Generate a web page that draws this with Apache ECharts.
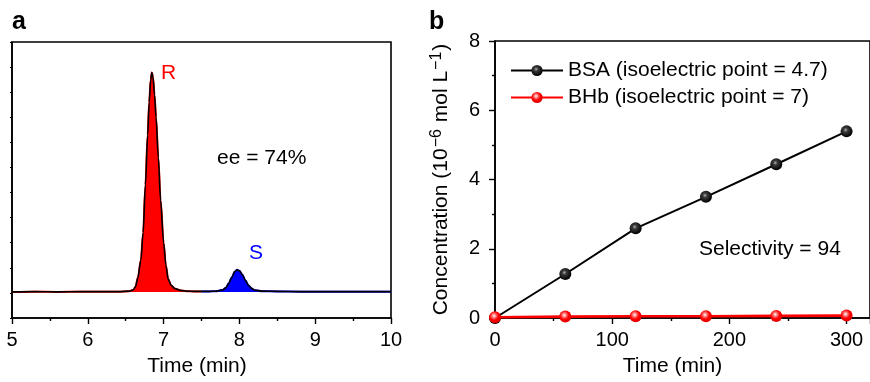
<!DOCTYPE html>
<html><head><meta charset="utf-8">
<script src="https://cdn.jsdelivr.net/npm/echarts@6/dist/echarts.min.js"></script>
<style>html,body{margin:0;padding:0;background:#fff}#c{width:870px;height:382px}</style>
</head><body><div id="c"></div>
<script>
// Panel a: chromatogram (time in min, detector signal in arbitrary units)
const timeA   = [5.0,5.3,5.6,5.9,6.2,6.4,6.55,6.6,6.63,6.66,6.7,6.73,6.76,6.79,6.81,6.83,6.845,6.86,6.88,6.9,6.93,6.96,7.0,7.03,7.06,7.1,7.15,7.22,7.3,7.4,7.5,7.6,7.7,7.78,7.82,7.86,7.9,7.94,7.97,8.0,8.04,8.08,8.12,8.16,8.2,8.3,8.5,8.8,9.1,9.4,9.7,10.0];
const signalA = [1.04,1.05,1.04,1.05,1.05,1.05,1.07,1.12,1.25,1.6,2.3,3.4,5.3,7.3,8.6,9.5,9.78,9.6,8.9,8.0,6.4,4.7,3.0,2.1,1.55,1.3,1.17,1.1,1.07,1.06,1.06,1.06,1.07,1.12,1.2,1.38,1.62,1.85,1.92,1.88,1.72,1.49,1.3,1.18,1.11,1.07,1.06,1.05,1.05,1.05,1.05,1.05];
const splitTime = 7.5;      // R trace (red) before, S trace (blue) after
const baselineA = 1.04;

// Panel b: concentration vs time
const timeB = [0,60,120,180,240,300];
const bsaB  = [0,1.27,2.59,3.50,4.44,5.39];
const bhbB  = [0.02,0.04,0.05,0.05,0.06,0.07];
const nameBSA = 'BSA (isoelectric point = 4.7)';
const nameBHb = 'BHb (isoelectric point = 7)';

const FONT = "'Liberation Sans', Arial, Helvetica, sans-serif";
const pairsA = timeA.map((t,i)=>[t, signalA[i]]);
const redPart = pairsA.filter(p=>p[0] <= splitTime);
const bluePart = pairsA.filter(p=>p[0] >= splitTime);

const axisLine = {show:true, lineStyle:{color:'#000', width:1.6}};
const chart = echarts.init(document.getElementById('c'));
chart.setOption({
  animation:false,
  textStyle:{fontFamily:FONT},
  grid:[
    {left:12, top:42, width:379, height:279, show:true, borderColor:'#000', borderWidth:1.6, backgroundColor:'transparent'},
    {left:495, top:41, width:375, height:279, show:true, borderColor:'#000', borderWidth:1.6, backgroundColor:'transparent'}
  ],
  xAxis:[
    {gridIndex:0, type:'value', min:5, max:10, interval:1,
     axisLine, axisTick:{show:true, length:6, lineStyle:{color:'#000', width:1.4}},
     minorTick:{show:true, splitNumber:2, length:3, lineStyle:{color:'#000', width:1.4}},
     splitLine:{show:false},
     axisLabel:{color:'#000', fontSize:20, margin:12, fontFamily:FONT},
     name:'Time (min)', nameLocation:'middle', nameGap:38,
     nameTextStyle:{color:'#000', fontSize:21, fontFamily:FONT, padding:[0,9,0,0]}},
    {gridIndex:1, type:'value', min:0, max:320, interval:100,
     axisLine, axisTick:{show:true, length:6, lineStyle:{color:'#000', width:1.4}},
     minorTick:{show:true, splitNumber:2, length:3, lineStyle:{color:'#000', width:1.4}},
     splitLine:{show:false},
     axisLabel:{color:'#000', fontSize:20, margin:12, fontFamily:FONT},
     name:'Time (min)', nameLocation:'middle', nameGap:38,
     nameTextStyle:{color:'#000', fontSize:21, fontFamily:FONT, padding:[0,20,0,0]}}
  ],
  yAxis:[
    {gridIndex:0, type:'value', min:0, max:11, interval:1,
     axisLine, axisTick:{show:true, length:2, lineStyle:{color:'#000', width:1.2}},
     axisLabel:{show:false}, splitLine:{show:false}},
    {gridIndex:1, type:'value', min:0, max:8, interval:2,
     axisLine, axisTick:{show:true, length:6, lineStyle:{color:'#000', width:1.4}},
     minorTick:{show:true, splitNumber:2, length:3, lineStyle:{color:'#000', width:1.4}},
     splitLine:{show:false},
     axisLabel:{color:'#000', fontSize:20, margin:15, fontFamily:FONT},
     name:'Concentration (10{sup|−6} mol L{sup|−1})', nameLocation:'middle', nameGap:42,
     nameTextStyle:{color:'#000', fontSize:21, fontFamily:FONT,
       rich:{sup:{fontSize:16, verticalAlign:'top', color:'#000', fontFamily:FONT, padding:[0,1,8,1]}}}}
  ],
  legend:{
    left:505, top:55, orient:'vertical', itemWidth:52, itemHeight:14, itemGap:6,
    textStyle:{color:'#000', fontSize:21, fontFamily:FONT},
    data:[nameBSA, nameBHb]
  },
  graphic:[
    {type:'text', left:12, top:10, style:{text:'a', font:'bold 25px '+FONT, fill:'#000'}},
    {type:'text', left:429, top:10, style:{text:'b', font:'bold 25px '+FONT, fill:'#000'}},
    {type:'text', left:161, top:63, style:{text:'R', font:'21px '+FONT, fill:'#ff0000'}},
    {type:'text', left:249, top:243, style:{text:'S', font:'21px '+FONT, fill:'#0000ff'}},
    {type:'text', left:217, top:148, style:{text:'ee = 74%', font:'21px '+FONT, fill:'#000'}},
    {type:'text', left:699, top:239, style:{text:'Selectivity = 94', font:'21px '+FONT, fill:'#000'}}
  ],
  series:[
    {type:'line', xAxisIndex:0, yAxisIndex:0, data:redPart, showSymbol:false, smooth:0.3, smoothMonotone:'x',
     lineStyle:{color:'#ff0000', width:2}, areaStyle:{color:'#ff0000', opacity:1, origin:baselineA}, z:2},
    {type:'line', xAxisIndex:0, yAxisIndex:0, data:bluePart, showSymbol:false, smooth:0.3, smoothMonotone:'x',
     lineStyle:{color:'#0000ff', width:2}, areaStyle:{color:'#0000ff', opacity:1, origin:baselineA}, z:2},
    {type:'line', xAxisIndex:0, yAxisIndex:0, data:pairsA, showSymbol:false, smooth:0.3, smoothMonotone:'x',
     lineStyle:{color:'#000', width:1.6}, z:3},
    {type:'line', name:nameBSA, xAxisIndex:1, yAxisIndex:1, data:timeB.map((t,i)=>[t,bsaB[i]]),
     symbol:'circle', symbolSize:12, showSymbol:true,
     lineStyle:{color:'#000', width:2},
     itemStyle:{color:new echarts.graphic.RadialGradient(0.42,0.38,0.6,[
       {offset:0,color:'#b0b0b0'},{offset:0.3,color:'#3a3a3a'},{offset:1,color:'#000'}]), borderWidth:0}, z:3},
    {type:'line', name:nameBHb, xAxisIndex:1, yAxisIndex:1, data:timeB.map((t,i)=>[t,bhbB[i]]),
     symbol:'circle', symbolSize:12, showSymbol:true,
     lineStyle:{color:'#ff0000', width:2.6},
     itemStyle:{color:new echarts.graphic.RadialGradient(0.42,0.38,0.6,[
       {offset:0,color:'#ffffff'},{offset:0.3,color:'#ff7070'},{offset:0.6,color:'#ff0000'},{offset:1,color:'#e00000'}]), borderWidth:0}, z:4}
  ]
});
</script></body></html>
